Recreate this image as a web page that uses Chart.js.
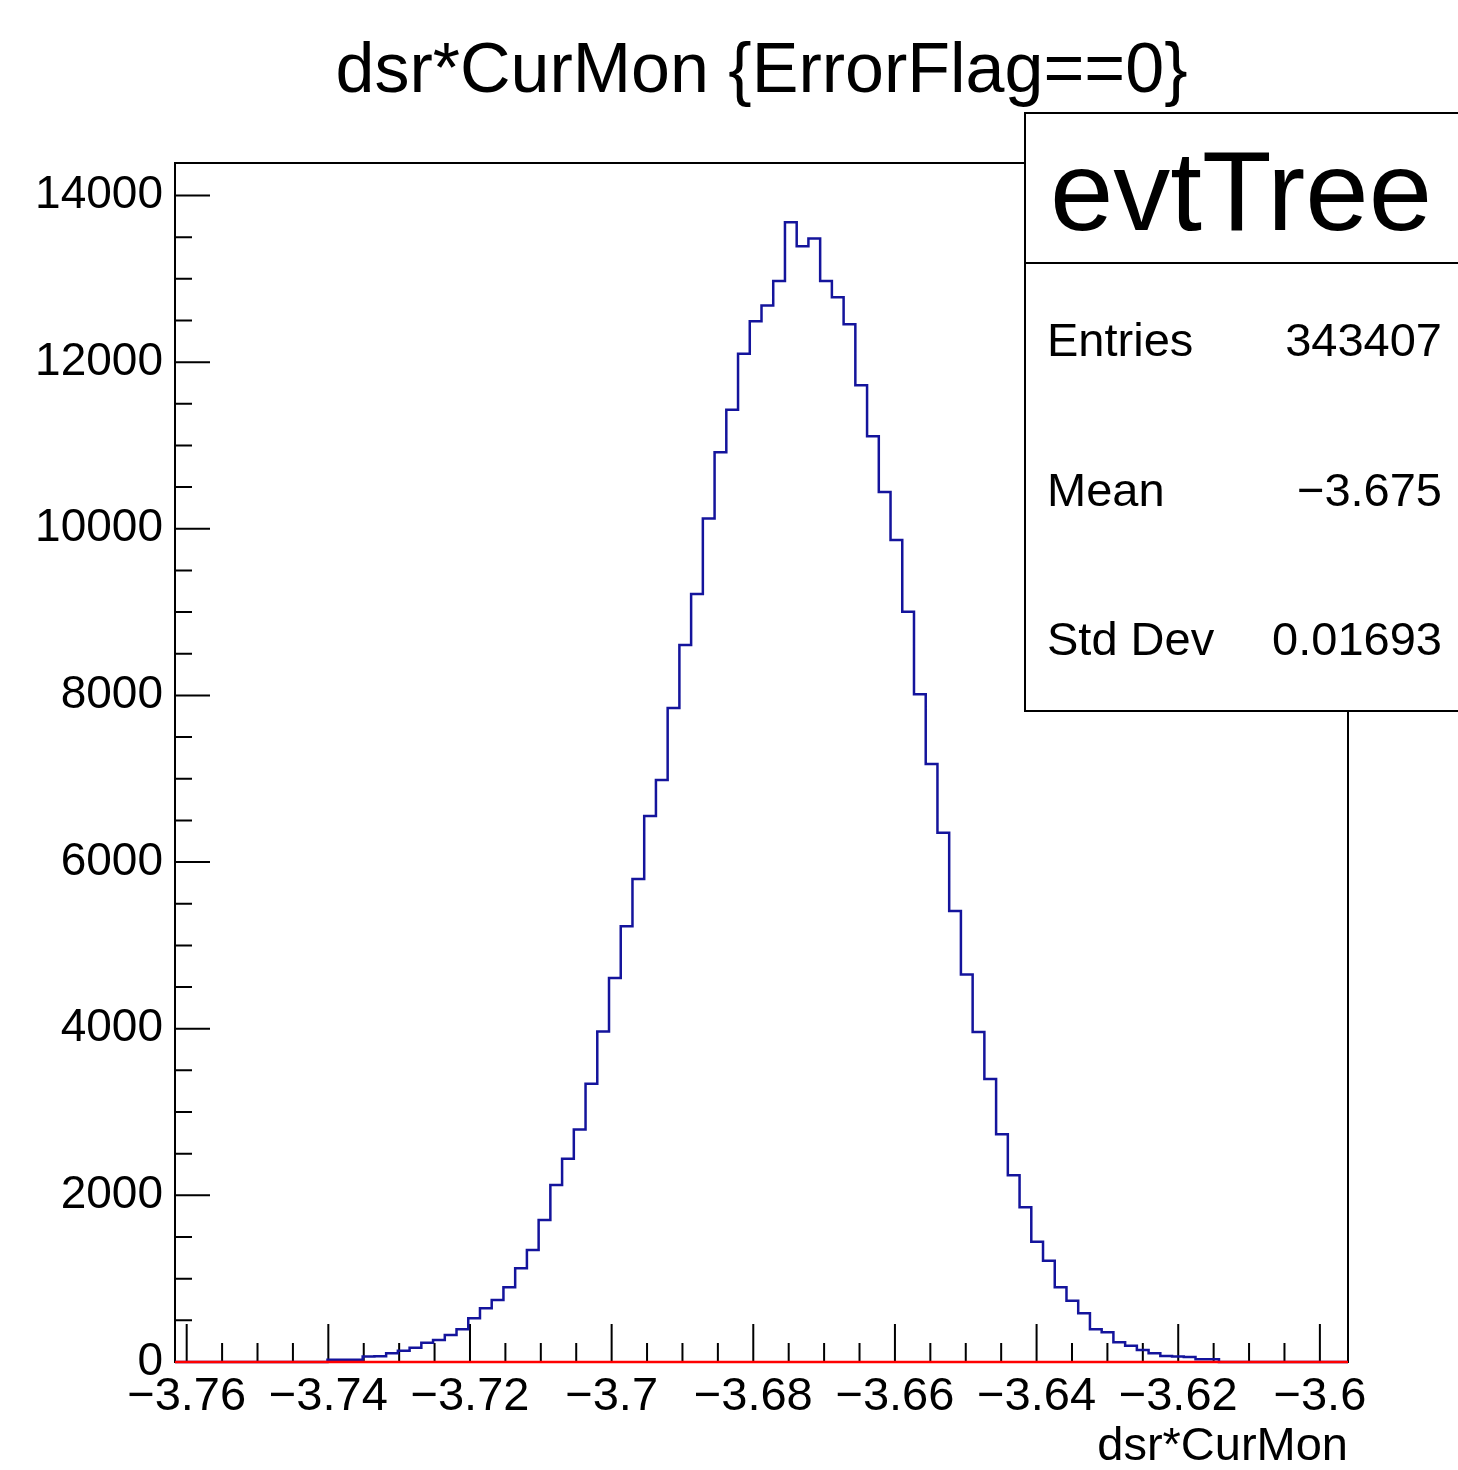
<!DOCTYPE html>
<html>
<head>
<meta charset="utf-8">
<script src="https://cdn.jsdelivr.net/npm/chart.js@4/dist/chart.umd.min.js"></script>
<style>
  body { margin: 0; background: #fff; }
  #wrap { width: 1458px; height: 1470px; }
</style>
</head>
<body>
<div id="wrap"><canvas id="histChart" width="1458" height="1470"></canvas></div>
<script>
  // histogram binning (100 bins)
  const xMin = -3.76165;
  const xMax = -3.59603;
  const nBins = 100;

  // bin contents
  const counts = [
    0, 0, 0, 0, 0, 0, 0, 0, 0, 0,
    0, 0, 0, 26, 26, 28, 66, 68, 104, 136,
    172, 232, 264, 324, 392, 524, 644, 744, 896, 1124,
    1344, 1704, 2124, 2440, 2790, 3338, 3966, 4610, 5230, 5796,
    6552, 6984, 7848, 8604, 9216, 10124, 10920, 11430, 12100, 12490,
    12680, 12975, 13680, 13390, 13485, 12975, 12780, 12456, 11724, 11112,
    10440, 9864, 9004, 8014, 7176, 6352, 5412, 4652, 3960, 3396,
    2732, 2240, 1856, 1444, 1216, 896, 736, 584, 392, 356,
    236, 196, 144, 104, 72, 66, 60, 34, 32, 0,
    0, 0, 0, 0, 0, 0, 0, 0, 0, 0
  ];

  const xTicks = [-3.76, -3.74, -3.72, -3.7, -3.68, -3.66, -3.64, -3.62, -3.6];
  const xTickLabels = ["\u22123.76", "\u22123.74", "\u22123.72", "\u22123.7", "\u22123.68", "\u22123.66", "\u22123.64", "\u22123.62", "\u22123.6"];
  const yTicks = [0, 2000, 4000, 6000, 8000, 10000, 12000, 14000];
  const yMax = 14390;

  const statNames = ["Entries", "Mean", "Std Dev"];
  const statValues = ["343407", "\u22123.675", "0.01693"];

  const FONT = "'Liberation Sans', Arial, Helvetica, sans-serif";
  const binW = (xMax - xMin) / nBins;

  // step outline: left edge of each bin + closing point
  const histPoints = counts.map((c, i) => ({ x: xMin + i * binW, y: c }));
  histPoints.push({ x: xMax, y: 0 });

  // ROOT-like frame, inner ticks, title and stats box
  const rootDecor = {
    id: "rootDecor",
    beforeDatasetsDraw(chart) {
      const { ctx, chartArea: a, scales: { x, y } } = chart;
      ctx.save();
      ctx.strokeStyle = "#000";
      ctx.lineWidth = 2;
      ctx.strokeRect(a.left, a.top, a.right - a.left, a.bottom - a.top);

      ctx.beginPath();
      // y ticks, majors every 2000, minors every 500
      for (let i = 0; i < yTicks.length; i++) {
        const py = y.getPixelForValue(yTicks[i]);
        ctx.moveTo(a.left, py); ctx.lineTo(a.left + 35, py);
        for (let m = 1; m < 4; m++) {
          const v = yTicks[i] + m * 500;
          if (v > yMax) break;
          const pm = y.getPixelForValue(v);
          ctx.moveTo(a.left, pm); ctx.lineTo(a.left + 17, pm);
        }
      }
      // x ticks, minors every 0.005
      for (let i = 0; i < xTicks.length; i++) {
        const px = x.getPixelForValue(xTicks[i]);
        ctx.moveTo(px, a.bottom); ctx.lineTo(px, a.bottom - 38);
        for (let m = 1; m < 4; m++) {
          const v = xTicks[i] + m * 0.005;
          if (v > xMax) break;
          const pm = x.getPixelForValue(v);
          ctx.moveTo(pm, a.bottom); ctx.lineTo(pm, a.bottom - 19);
        }
      }
      ctx.stroke();
      ctx.restore();
    },
    afterDatasetsDraw(chart) {
      const { ctx, chartArea: a } = chart;
      ctx.save();
      ctx.fillStyle = "#000";

      ctx.font = "70px " + FONT;
      ctx.textAlign = "center";
      ctx.textBaseline = "alphabetic";
      ctx.fillText("dsr*CurMon {ErrorFlag==0}", (a.left + a.right) / 2, 92);

      ctx.font = "47px " + FONT;
      ctx.textAlign = "right";
      ctx.fillText("dsr*CurMon", a.right, 1460);

      // stats box
      const bx = 1025, by = 113, bw = 460, bh = 598;
      ctx.fillStyle = "#fff";
      ctx.fillRect(bx, by, bw, bh);
      ctx.strokeStyle = "#000";
      ctx.lineWidth = 2;
      ctx.strokeRect(bx, by, bw, bh);
      ctx.beginPath();
      ctx.moveTo(bx, 263); ctx.lineTo(bx + bw, 263);
      ctx.stroke();

      ctx.fillStyle = "#000";
      ctx.font = "114px " + FONT;
      ctx.textAlign = "center";
      ctx.fillText("evtTree", 1241, 230);

      ctx.font = "47px " + FONT;
      const rowY = [356, 506, 655];
      for (let i = 0; i < statNames.length; i++) {
        ctx.textAlign = "left";
        ctx.fillText(statNames[i], 1047, rowY[i]);
        ctx.textAlign = "right";
        ctx.fillText(statValues[i], 1442, rowY[i]);
      }
      ctx.restore();
    }
  };

  new Chart(document.getElementById("histChart"), {
    type: "line",
    data: {
      datasets: [
        {
          // zero line
          data: [{ x: xMin, y: 0 }, { x: xMax, y: 0 }],
          borderColor: "#ff0000",
          borderWidth: 2.5,
          pointRadius: 0,
          clip: 4,
          fill: false
        },
        {
          data: histPoints,
          stepped: "before",
          borderColor: "#14149c",
          borderWidth: 2.5,
          pointRadius: 0,
          clip: 4,
          fill: false
        }
      ]
    },
    options: {
      responsive: false,
      animation: false,
      layout: { padding: { left: 0, top: 163, right: 110, bottom: 0 } },
      plugins: { legend: { display: false }, tooltip: { enabled: false }, title: { display: false } },
      scales: {
        x: {
          type: "linear",
          min: xMin,
          max: xMax,
          grid: { display: false, drawTicks: false },
          border: { display: false },
          afterBuildTicks: (s) => { s.ticks = xTicks.map(v => ({ value: v })); },
          afterFit: (s) => { s.height = 108; },
          ticks: {
            padding: 7,
            maxRotation: 0,
            autoSkip: false,
            color: "#000",
            font: { family: FONT, size: 47 },
            callback: (v) => xTickLabels[xTicks.findIndex(t => Math.abs(t - v) < 1e-9)]
          }
        },
        y: {
          min: 0,
          max: yMax,
          grid: { display: false, drawTicks: false },
          border: { display: false },
          afterBuildTicks: (s) => { s.ticks = yTicks.map(v => ({ value: v })); },
          afterFit: (s) => { s.width = 175; },
          ticks: {
            padding: 12,
            autoSkip: false,
            color: "#000",
            font: { family: FONT, size: 46 },
            callback: (v) => String(v)
          }
        }
      }
    },
    plugins: [rootDecor]
  });
</script>
</body>
</html>
